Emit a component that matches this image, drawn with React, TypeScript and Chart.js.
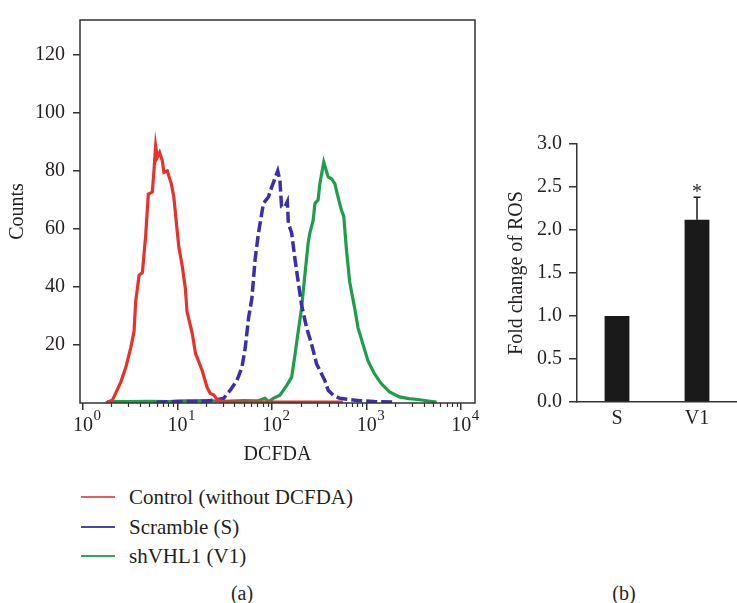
import React, { useEffect, useRef } from 'react';
import { Chart, registerables } from 'chart.js';

Chart.register(...registerables);

const FONT = "'Liberation Serif', 'Times New Roman', serif";
const TEXT = '#231f20';
const AXIS = '#333333';

// ---------- (a) histogram data ----------
const controlIntensity = [1.75, 1.85, 2.05, 2.22, 2.51, 2.84, 3.2, 3.47, 3.61, 3.92, 4.25, 4.6, 4.91, 5.41, 5.63, 5.87, 6.11, 6.46, 6.9, 7.18, 7.79, 8.58, 9.14, 9.5, 10.3, 11.2, 12.1, 12.6, 14.3, 15.5, 16.1, 18.2, 20.5, 22.2, 24.1, 26.2, 30, 50, 100, 200, 400, 560];
const controlCounts = [0, 0.4, 1, 3.4, 7.2, 12.3, 19, 24.7, 35, 44, 45, 57.5, 72, 72.7, 80, 88.6, 84.6, 86.3, 83.5, 79.5, 80, 75.6, 71, 65.4, 54, 47.3, 39.4, 31.5, 24, 17, 15.7, 11.2, 5.5, 3.3, 2.8, 1.2, 0.5, 0.3, 0.3, 0.3, 0.3, 0.3];

const scrambleIntensity = [6, 10, 15, 20, 24.1, 30.7, 36.1, 42.5, 48, 52, 56.4, 61.1, 66.2, 71.8, 81, 91.5, 99.3, 114.7, 121, 126, 137, 145, 148.6, 161, 174.6, 189, 205, 232, 262, 296, 334, 361, 392, 443, 520, 662, 844, 1200, 1900];
const scrambleCounts = [0.3, 0.5, 0.5, 0.6, 1, 1.6, 4.4, 7.8, 12.3, 19, 29.3, 36, 49.6, 58.6, 68.8, 71, 74.5, 80, 76.7, 67.7, 67.7, 69.4, 62, 58.6, 49.6, 41.7, 33.8, 25.9, 20.2, 13.4, 10, 7.8, 4.4, 2.7, 1.6, 1.2, 0.8, 0.5, 0.3];

const shvhlIntensity = [1.8, 3, 5, 8, 12, 20, 30, 50, 70, 84, 92, 103, 121, 143, 161, 175, 189, 205, 222, 241, 251, 272, 284, 307, 320, 352, 392, 425, 461, 488, 541, 573, 611, 662, 748, 811, 915, 1032, 1213, 1428, 1746, 2225, 2800, 3500, 4500, 5500];
const shvhlCounts = [0.5, 0.5, 0.6, 0.5, 0.7, 0.8, 0.6, 0.8, 0.7, 1.6, 0.5, 1.6, 2.7, 6.1, 8.9, 16.8, 24.7, 32.6, 44, 55.3, 58.6, 63, 68.8, 70, 75.6, 83, 77.9, 77.3, 75.6, 72.2, 66.5, 64.3, 53, 41.7, 32.6, 25.9, 20.2, 14.6, 10, 6.7, 3.8, 2.1, 1.5, 1.2, 0.7, 0.3];

const seriesLabels = ['Control (without DCFDA)', 'Scramble (S)', 'shVHL1 (V1)'];
const seriesColors = ['#e6322a', '#3a2fae', '#1e9e4a'];
const legendColors = ['#e46060', '#4a44a6', '#2fa85a'];
const countTicks = [20, 40, 60, 80, 100, 120];
const decadeTicks = [1, 10, 100, 1000, 10000];
const decadeBase = '10';
const decadeExponents = ['0', '1', '2', '3', '4'];

// ---------- (b) bar data ----------
const groups = ['S', 'V1'];
const foldChange = [1.0, 2.12];
const foldError = [0, 0.26];
const significance = ['', '*'];
const foldTicks = [0, 0.5, 1, 1.5, 2, 2.5, 3];

const toPoints = (xs: number[], ys: number[]) => xs.map((x, i) => ({ x, y: ys[i] }));

const framePlugin = {
  id: 'frameAndMinor',
  afterDraw(chart: any) {
    const { ctx, chartArea: a, scales } = chart;
    const xs = scales.x;
    ctx.save();
    ctx.strokeStyle = AXIS;
    ctx.lineWidth = 1.5;
    ctx.strokeRect(a.left, a.top, a.right - a.left, a.bottom - a.top);
    ctx.lineWidth = 1.2;
    ctx.beginPath();
    for (let k = 0; k < 4; k++) {
      for (let m = 2; m < 10; m++) {
        const px = Math.round(xs.getPixelForValue(m * Math.pow(10, k))) + 0.5;
        ctx.moveTo(px, a.bottom);
        ctx.lineTo(px, a.bottom + 4);
      }
    }
    ctx.stroke();
    // exponents of the decade labels
    ctx.fillStyle = TEXT;
    ctx.font = `20px ${FONT}`;
    const half = ctx.measureText(decadeBase).width / 2;
    ctx.font = `15px ${FONT}`;
    ctx.textAlign = 'left';
    ctx.textBaseline = 'alphabetic';
    decadeTicks.forEach((v, i) => {
      const px = xs.getPixelForValue(v);
      ctx.fillText(decadeExponents[i], px + half + 0.5, a.bottom + 16.5);
    });
    ctx.restore();
  },
};

const errorPlugin = {
  id: 'errorBars',
  afterDatasetsDraw(chart: any) {
    const { ctx, scales } = chart;
    const xs = scales.x;
    const ys = scales.y;
    ctx.save();
    ctx.strokeStyle = '#1a1a1a';
    ctx.lineWidth = 1.5;
    foldChange.forEach((v, i) => {
      const err = foldError[i];
      const cx = xs.getPixelForValue(i);
      const yTop = ys.getPixelForValue(v + err);
      if (err > 0) {
        const yBar = ys.getPixelForValue(v);
        ctx.beginPath();
        ctx.moveTo(cx, yBar);
        ctx.lineTo(cx, yTop);
        ctx.moveTo(cx - 3.5, yTop);
        ctx.lineTo(cx + 3.5, yTop);
        ctx.stroke();
      }
      if (significance[i]) {
        ctx.fillStyle = TEXT;
        ctx.font = `20px ${FONT}`;
        ctx.textAlign = 'center';
        ctx.textBaseline = 'alphabetic';
        ctx.fillText(significance[i], cx, yTop + 1);
      }
    });
    ctx.restore();
  },
};

export default function App() {
  const leftRef = useRef<HTMLCanvasElement>(null);
  const rightRef = useRef<HTMLCanvasElement>(null);

  useEffect(() => {
    const tickFont = { family: FONT, size: 20, lineHeight: 1.2 };
    const datasets = [
      { data: toPoints(controlIntensity, controlCounts), borderColor: seriesColors[0], borderWidth: 3.2 },
      { data: toPoints(scrambleIntensity, scrambleCounts), borderColor: seriesColors[1], borderWidth: 3.5, borderDash: [11, 4] },
      { data: toPoints(shvhlIntensity, shvhlCounts), borderColor: seriesColors[2], borderWidth: 3.2 },
    ].map((d, i) => ({ ...d, label: seriesLabels[i], pointRadius: 0, tension: 0, fill: false }));

    const left = new Chart(leftRef.current!, {
      type: 'line',
      data: { datasets },
      options: {
        responsive: false,
        animation: false,
        layout: { padding: { top: 14, right: 5, bottom: 0, left: 0 } },
        plugins: { legend: { display: false }, tooltip: { enabled: false } },
        scales: {
          x: {
            type: 'logarithmic',
            min: 0.93,
            max: 14000,
            afterBuildTicks: (s: any) => { s.ticks = decadeTicks.map((v) => ({ value: v })); },
            afterFit: (s: any) => { s.height = 67; },
            grid: { display: true, drawOnChartArea: false, drawTicks: true, tickLength: 7, color: AXIS, lineWidth: 1.5 },
            border: { display: false },
            ticks: {
              autoSkip: false, maxRotation: 0, padding: 4, color: TEXT, font: tickFont,
              callback: () => decadeBase,
            },
            title: { display: true, text: 'DCFDA', color: TEXT, font: tickFont, padding: { top: 0, bottom: 3 } },
          },
          y: {
            type: 'linear',
            min: 0,
            max: 132,
            afterBuildTicks: (s: any) => { s.ticks = countTicks.map((v) => ({ value: v })); },
            afterFit: (s: any) => { s.width = 80; },
            grid: { display: true, drawOnChartArea: false, drawTicks: true, tickLength: 7, color: AXIS, lineWidth: 1.5 },
            border: { display: false },
            ticks: { padding: 8, color: TEXT, font: tickFont },
            title: { display: true, text: 'Counts', color: TEXT, font: tickFont, padding: { top: 6, bottom: 0 } },
          },
        },
      },
      plugins: [framePlugin],
    } as any);

    const right = new Chart(rightRef.current!, {
      type: 'bar',
      data: {
        labels: groups,
        datasets: [{ data: foldChange, backgroundColor: '#1a1a1a', barPercentage: 0.31, categoryPercentage: 1 }],
      },
      options: {
        responsive: false,
        animation: false,
        layout: { padding: { top: 24, right: 0, bottom: 0, left: 0 } },
        plugins: { legend: { display: false }, tooltip: { enabled: false } },
        scales: {
          x: {
            type: 'category',
            afterFit: (s: any) => { s.height = 38; },
            grid: { display: false, drawTicks: false },
            border: { display: true, color: AXIS, width: 1.5 },
            ticks: { padding: 5, color: TEXT, font: tickFont },
          },
          y: {
            min: 0,
            max: 3,
            afterBuildTicks: (s: any) => { s.ticks = foldTicks.map((v) => ({ value: v })); },
            afterFit: (s: any) => { s.width = 97; },
            grid: { display: true, drawOnChartArea: false, drawTicks: true, tickLength: 8, color: AXIS, lineWidth: 1.5 },
            border: { display: true, color: AXIS, width: 1.5 },
            ticks: { padding: 7, color: TEXT, font: tickFont, callback: (v: any) => Number(v).toFixed(1) },
            title: { display: true, text: 'Fold change of ROS', color: TEXT, font: tickFont, padding: { top: 25, bottom: 0 } },
          },
        },
      },
      plugins: [errorPlugin],
    } as any);

    return () => { left.destroy(); right.destroy(); };
  }, []);

  const legendRows = [497, 527, 556];

  return (
    <div style={{ position: 'absolute', left: 0, top: 0, width: 737, height: 603, background: '#fff', overflow: 'hidden', fontFamily: FONT, color: TEXT }}>
      <canvas ref={leftRef} width={480} height={470} style={{ position: 'absolute', left: 0, top: 0 }} />
      <canvas ref={rightRef} width={257} height={320} style={{ position: 'absolute', left: 480, top: 120 }} />
      {seriesLabels.map((label, i) => (
        <div key={label} style={{ position: 'absolute', left: 81, top: legendRows[i] - 12, height: 24, display: 'flex', alignItems: 'center', whiteSpace: 'nowrap' }}>
          <div style={{ width: 34, height: 1.5, background: legendColors[i], marginRight: 14 }} />
          <span style={{ fontSize: 21, lineHeight: '24px' }}>{label}</span>
        </div>
      ))}
      <div style={{ position: 'absolute', left: 222, top: 581, width: 40, height: 24, lineHeight: '24px', textAlign: 'center', fontSize: 20 }}>(a)</div>
      <div style={{ position: 'absolute', left: 604, top: 581, width: 40, height: 24, lineHeight: '24px', textAlign: 'center', fontSize: 20 }}>(b)</div>
    </div>
  );
}
